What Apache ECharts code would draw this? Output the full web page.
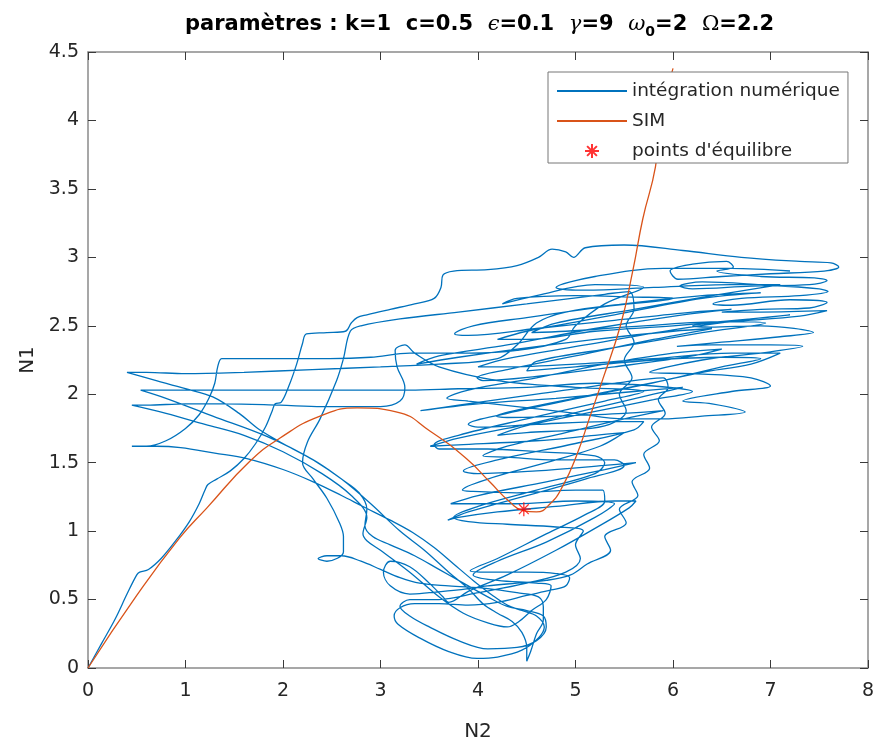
<!DOCTYPE html>
<html>
<head>
<meta charset="utf-8">
<script src="https://cdn.jsdelivr.net/npm/echarts/dist/echarts.min.js"></script>
<style>
  html, body { margin: 0; padding: 0; background: #fff; }
  #chart { width: 878px; height: 747px; }
</style>
</head>
<body>
<div id="chart"></div>
<script>
// trajectory (N2, N1), split in pieces
var climb = [
  [0,0],[0.14,0.18],[0.28,0.36],[0.4,0.54],[0.5,0.68],[0.53,0.7],[0.62,0.72],[0.75,0.8],[0.9,0.93],
  [1.04,1.07],[1.14,1.2],[1.2,1.3],[1.23,1.34],[1.32,1.38],[1.46,1.44],[1.6,1.53],[1.72,1.64],
  [1.82,1.76],[1.89,1.88],[1.92,1.93],[1.98,1.94],[2.06,2.06],[2.14,2.22],[2.2,2.37],[2.24,2.44],
  [2.45,2.45],[2.64,2.46],[2.7,2.52],[2.76,2.56],[2.86,2.58],[3.1,2.62],[3.35,2.66],[3.55,2.7],
  [3.62,2.78],[3.64,2.87],[3.75,2.9],[4.1,2.91],[4.4,2.94],[4.62,3.0],[4.76,3.06],[4.9,3.04],
  [4.98,3.0],[5.1,3.07],[5.5,3.09],[6.1,3.05],[6.7,3.0],[7.3,2.97],[7.62,2.96],[7.7,2.93],
  [7.55,2.9],[7.0,2.88],[6.5,2.86],[6.05,2.84]
];
var bandTop = [
  [5.97,2.9],[6.2,2.95],[6.55,2.97],[6.62,2.93],[6.45,2.9],[6.9,2.86],[7.45,2.85],[7.58,2.83],
  [7.4,2.8],[6.8,2.79],[6.2,2.77],[6.07,2.79],[6.3,2.82],[6.9,2.8],[7.5,2.77],[7.59,2.75],
  [7.3,2.72],[6.7,2.7],[6.41,2.66],[6.6,2.65],[7.2,2.69],[7.58,2.67],[7.4,2.63],[6.9,2.62],
  [6.5,2.6],[6.9,2.6],[7.58,2.61],[7.3,2.57],[6.6,2.53],[6.2,2.5],[6.38,2.49],[6.9,2.5],
  [7.44,2.45],[7.1,2.42],[6.5,2.38],[6.04,2.35],[6.4,2.36],[7.0,2.36],[7.33,2.35],[7.0,2.31],
  [6.3,2.25],[5.76,2.16],[6.2,2.15],[6.8,2.12],[7.0,2.06],[6.6,2.02],[6.1,1.95],[6.4,1.93],
  [6.74,1.87],[6.3,1.84],[5.9,1.82]
];
var bandMid1 = [
  [5.5,1.82],[5.0,1.86],[4.4,1.91],[3.9,1.95],[3.68,1.97],[3.9,2.03],[4.6,2.12],[5.3,2.22],
  [6.0,2.3],[6.5,2.33],[6.2,2.28],[5.4,2.2],[4.6,2.13],[4.05,2.1],[3.99,2.12],[4.3,2.18],
  [5.0,2.28],[5.8,2.4],[6.4,2.48],[6.0,2.46],[5.2,2.4],[4.4,2.33],[3.8,2.27],[3.37,2.22],
  [3.6,2.28],[4.3,2.36],[5.2,2.48],[6.1,2.58],[6.6,2.62],[6.2,2.6],[5.4,2.54],[4.6,2.48],
  [3.9,2.43],[3.76,2.44],[3.95,2.5],[4.5,2.56],[5.3,2.64],[6.0,2.7],[5.6,2.71],[5.0,2.72],
  [4.4,2.7],[4.25,2.66],[4.6,2.72],[5.2,2.8],[5.7,2.78],[5.3,2.66],[5.0,2.5],[4.9,2.4]
];
var excursion1 = [
  [4.4,2.32],[3.9,2.3],[3.3,2.3],[2.9,2.27],[2.48,2.26],[1.9,2.26],[1.45,2.26],[1.37,2.26],
  [1.33,2.2],[1.3,2.08],[1.24,1.97],[1.14,1.85],[1.0,1.75],[0.8,1.66],[0.6,1.62],[0.45,1.62],
  [0.7,1.62],[0.95,1.61],[1.3,1.57],[1.63,1.53],[2.0,1.45],[2.31,1.36],[2.6,1.26],[2.82,1.18],
  [3.1,1.08],[3.33,0.99],[3.55,0.88],[3.75,0.76],[3.95,0.64],[4.15,0.53],[4.3,0.46],[4.45,0.42]
];
var bottom1 = [
  [4.6,0.38],[4.68,0.3],[4.62,0.22],[4.45,0.13],[4.2,0.08],[3.99,0.07],[3.7,0.12],[3.4,0.22],
  [3.18,0.32],[3.14,0.38],[3.2,0.44],[3.35,0.47],[3.6,0.47],[3.9,0.46],[4.2,0.48],[4.5,0.53],
  [4.75,0.57],[4.9,0.6],[4.94,0.66],[4.8,0.69],[4.5,0.7],[4.1,0.7],[3.92,0.71]
];
var lowerBand1 = [
  [4.2,0.8],[4.7,0.98],[5.1,1.12],[5.3,1.22],[5.28,1.3],[5.0,1.3],[4.4,1.28],[3.95,1.29],
  [3.84,1.3],[4.1,1.38],[4.7,1.5],[5.25,1.62],[5.5,1.72],[5.2,1.7],[4.6,1.66],[3.8,1.63],
  [3.51,1.62],[3.8,1.68],[4.5,1.78],[5.2,1.9],[5.8,2.0],[6.1,2.05],[5.6,2.02],[4.8,1.97],
  [4.0,1.93],[3.41,1.88],[3.8,1.92],[4.6,2.0],[5.4,2.08],[5.9,2.12]
];
var rightEdge1 = [
  [5.95,2.05],[5.85,1.96],[5.92,1.86],[5.78,1.76],[5.86,1.66],[5.7,1.56],[5.76,1.46],[5.58,1.36],
  [5.64,1.26],[5.45,1.16],[5.52,1.06],[5.3,0.96],[5.36,0.86],[5.12,0.76],[4.95,0.68],[4.7,0.64],
  [4.4,0.62],[4.1,0.6],[3.8,0.57],[3.5,0.55],[3.3,0.54],[3.1,0.6],[3.03,0.7],[3.1,0.78],
  [3.3,0.74],[3.5,0.62],[3.64,0.52],[3.7,0.48],[3.9,0.56],[4.3,0.68],[4.8,0.86],[5.2,1.02],
  [5.55,1.17],[5.62,1.22],[5.4,1.22],[4.8,1.18],[4.2,1.14],[3.8,1.1],[3.69,1.08],[3.9,1.14],
  [4.5,1.26],[5.1,1.38],[5.5,1.48],[5.4,1.52],[4.8,1.52],[4.3,1.54],[4.05,1.55],[4.3,1.62],
  [4.9,1.72],[5.5,1.82],[5.9,1.88],[5.5,1.86],[4.8,1.84],[4.3,1.83],[4.19,1.84],[4.5,1.9],
  [5.2,2.0],[5.9,2.1],[6.3,2.16]
];
var bandMid2 = [
  [6.8,2.22],[7.1,2.3],[6.6,2.3],[5.8,2.26],[5.0,2.22],[4.3,2.2],[4.0,2.2],[4.3,2.26],
  [5.1,2.36],[6.0,2.47],[6.8,2.55],[7.2,2.58],[6.8,2.55],[6.0,2.5],[5.2,2.46],[4.5,2.4],
  [4.2,2.4],[4.5,2.46],[5.4,2.58],[6.3,2.7],[6.9,2.74],[6.3,2.72],[5.5,2.66],[4.9,2.6],
  [4.6,2.52],[4.4,2.36],[4.2,2.26]
];
var excursion2 = [
  [3.6,2.22],[3.0,2.2],[2.3,2.18],[1.6,2.16],[1.0,2.15],[0.6,2.16],[0.4,2.16],[0.7,2.1],
  [1.0,2.04],[1.28,1.98],[1.55,1.86],[1.76,1.74],[2.05,1.62],[2.31,1.52],[2.6,1.38],[2.9,1.2],
  [3.2,1.0],[3.45,0.86],[3.7,0.7],[3.9,0.58],[4.05,0.47],[4.2,0.4]
];
var bottom2 = [
  [4.35,0.34],[4.45,0.26],[4.5,0.15],[4.5,0.05],[4.54,0.12],[4.6,0.25],[4.67,0.35],[4.67,0.45],
  [4.62,0.52],[4.4,0.55],[4.1,0.58],[3.7,0.6],[3.4,0.62],[3.2,0.66],[3.0,0.72],[2.8,0.78],
  [2.6,0.82],[2.45,0.82],[2.36,0.8],[2.45,0.78],[2.62,0.85],[2.62,0.96],[2.58,1.06],[2.45,1.24],
  [2.31,1.38],[2.2,1.5],[2.25,1.65],[2.38,1.82],[2.55,2.1],[2.62,2.26],[2.69,2.46],[2.8,2.5],
  [3.2,2.55],[3.8,2.6]
];
var bandMid3 = [
  [4.5,2.66],[5.3,2.73],[5.55,2.75],[5.6,2.62],[5.52,2.5],[5.6,2.38],[5.5,2.25],[5.58,2.12],
  [5.45,2.0],[5.52,1.88],[5.35,1.78],[5.0,1.74],[4.5,1.72],[4.2,1.7],[4.5,1.77],[5.1,1.86],
  [5.8,1.96],[6.2,2.02],[5.8,2.06],[5.2,2.08]
];
var excursion3 = [
  [4.5,2.05],[3.8,2.04],[3.3,2.03],[2.6,2.03],[1.8,2.03],[1.1,2.03],[0.7,2.03],[0.54,2.03],
  [0.8,1.97],[1.28,1.84],[1.84,1.69],[2.31,1.52],[2.6,1.38],[2.78,1.28],[2.86,1.16],[2.84,1.04],
  [2.92,0.96],[3.1,0.9],[3.35,0.82],[3.6,0.72],[3.85,0.62],[4.1,0.52],[4.3,0.45]
];
var bottom3 = [
  [4.5,0.42],[4.67,0.38],[4.7,0.3],[4.6,0.2],[4.4,0.15],[4.1,0.14],[3.8,0.2],[3.5,0.3],
  [3.3,0.38],[3.2,0.45],[3.3,0.5],[3.6,0.5]
];
var lowerBand2 = [
  [4.0,0.55],[4.5,0.62],[4.9,0.7],[5.05,0.8],[5.0,0.9],[5.08,1.0],[4.8,1.03],[4.3,1.05],
  [3.9,1.07],[3.75,1.1],[4.0,1.18],[4.6,1.3],[5.2,1.42],[5.3,1.5],[5.2,1.55],[4.6,1.58],
  [4.1,1.6],[3.6,1.6],[3.55,1.63],[3.8,1.7],[4.5,1.82],[5.3,1.95],[5.7,2.02]
];
var excursion4 = [
  [5.0,2.05],[4.2,2.1],[3.6,2.2],[3.35,2.3],[3.25,2.36],[3.15,2.32],[3.17,2.2],[3.25,2.05],
  [3.2,1.95],[3.0,1.91],[2.4,1.91],[1.97,1.92],[1.4,1.93],[1.0,1.93],[0.6,1.92],[0.45,1.92],
  [0.8,1.86],[1.2,1.78],[1.6,1.7],[2.0,1.58],[2.4,1.42],[2.7,1.26],[2.86,1.1],[2.82,0.98],
  [2.86,0.93],[3.0,0.86],[3.3,0.7],[3.6,0.52],[3.85,0.4],[4.1,0.33],[4.3,0.3],[4.42,0.34]
];
var ending = [
  [4.55,0.42],[4.7,0.5],[4.75,0.6],[4.6,0.62],[4.2,0.64],[3.95,0.68],[4.2,0.78],[4.7,0.92],
  [5.2,1.1],[5.4,1.2],[5.0,1.22],[4.4,1.2],[3.9,1.2],[3.72,1.2],[4.0,1.26],[4.7,1.36],
  [5.3,1.45],[5.62,1.5],[5.3,1.48],[4.6,1.44],[4.0,1.42],[3.85,1.44],[4.2,1.52],[5.0,1.64],
  [5.6,1.74],[5.7,1.8],[5.3,1.8],[4.6,1.78],[4.0,1.76],[3.9,1.78],[4.3,1.86],[5.1,1.98],
  [5.9,2.1],[6.5,2.2],[6.9,2.26],[6.5,2.27],[5.8,2.25],[5.0,2.2],[4.5,2.17],[4.6,2.24],
  [5.4,2.34],[6.3,2.45],[6.95,2.52],[6.5,2.53],[5.7,2.5],[4.9,2.46],[4.55,2.45],[4.8,2.52],
  [5.6,2.62],[6.4,2.72],[7.1,2.8],[6.6,2.8],[5.8,2.78],[5.1,2.76],[4.8,2.78],[5.2,2.86],
  [5.9,2.92],[6.6,2.92],[7.2,2.9]
];

// slow invariant manifold
var simN2 = [0, 0.5, 0.94, 1.22, 1.66, 1.97, 2.38, 2.76, 3.17, 3.51, 3.88, 4.12, 4.33, 4.46, 4.6,
  4.74, 4.87, 5.01, 5.15, 5.28, 5.46, 5.59, 5.69, 5.82, 5.87, 6.0];
var simN1 = [0, 0.53, 0.95, 1.17, 1.51, 1.68, 1.84, 1.90, 1.87, 1.73, 1.53, 1.36, 1.21, 1.15, 1.14,
  1.20, 1.33, 1.55, 1.84, 2.11, 2.5, 2.91, 3.28, 3.66, 4.0, 4.38];

var equilibrium = [[4.47, 1.16]];

var trajectory = [].concat(climb, bandTop, bandMid1, excursion1, bottom1, lowerBand1, rightEdge1,
  bandMid2, excursion2, bottom2, bandMid3, excursion3, bottom3, lowerBand2, excursion4, ending);
var sim = simN2.map(function (x, i) { return [x, simN1[i]]; });

var font = "'DejaVu Sans', 'Liberation Sans', Arial, sans-serif";
var serif = "'DejaVu Serif', 'Liberation Serif', serif";
var axisGray = '#8a8a8a';
var tickDark = '#3a3a3a';
var starPath = 'path://M10,0L10,20M0,10L20,10M3,3L17,17M17,3L3,17';
var noMarker = { color: 'rgba(0,0,0,0)', borderWidth: 0 };

var myChart = echarts.init(document.getElementById('chart'));

var option = {
  animation: false,
  backgroundColor: '#fff',
  title: {
    left: 180,
    top: 6,
    text: '{a|paramètres : k=1  c=0.5  }{g|ϵ}{a|=0.1  }{g|γ}{a|=9  }{g|ω}{s|0}{a|=2  }{o|Ω}{a|=2.2}',
    textStyle: {
      rich: {
        a: { fontFamily: font, fontWeight: 'bold', fontSize: 21, color: '#000', lineHeight: 28 },
        g: { fontFamily: serif, fontStyle: 'italic', fontWeight: 'normal', fontSize: 21, color: '#000', lineHeight: 28 },
        o: { fontFamily: serif, fontWeight: 'normal', fontSize: 21, color: '#000', lineHeight: 28 },
        s: { fontFamily: font, fontWeight: 'bold', fontSize: 14, color: '#000', lineHeight: 28, padding: [14, 0, 0, 0] }
      }
    }
  },
  legend: {
    left: 548,
    top: 72,
    orient: 'vertical',
    backgroundColor: '#fff',
    borderColor: '#777',
    borderWidth: 1,
    borderRadius: 0,
    padding: [8, 8, 1, 8],
    itemWidth: 70,
    itemHeight: 14,
    itemGap: 8,
    textStyle: { fontFamily: font, fontSize: 18.5, color: '#262626', lineHeight: 22 },
    data: [
      { name: 'intégration numérique', itemStyle: noMarker },
      { name: 'SIM', itemStyle: noMarker },
      { name: "points d'équilibre" }
    ]
  },
  grid: { left: 88, right: 10, top: 52, bottom: 77, containLabel: false },
  xAxis: [{
    type: 'value', min: 0, max: 8, interval: 1,
    name: 'N2', nameLocation: 'middle', nameGap: 54,
    nameTextStyle: { fontFamily: font, fontSize: 20, color: '#262626' },
    axisLine: { show: true, onZero: false, lineStyle: { color: axisGray, width: 1.5 } },
    axisTick: { show: true, inside: true, length: 8, lineStyle: { color: tickDark } },
    axisLabel: { fontFamily: font, fontSize: 19, color: '#262626', margin: 14 },
    splitLine: { show: false }
  }, {
    type: 'value', min: 0, max: 8, interval: 1, position: 'top',
    axisLine: { show: true, onZero: false, lineStyle: { color: axisGray, width: 1.5 } },
    axisTick: { show: true, inside: true, length: 8, lineStyle: { color: tickDark } },
    axisLabel: { show: false },
    splitLine: { show: false }
  }],
  yAxis: [{
    type: 'value', min: 0, max: 4.5, interval: 0.5,
    name: 'N1', nameLocation: 'middle', nameGap: 47,
    nameTextStyle: { fontFamily: font, fontSize: 20, color: '#262626' },
    axisLine: { show: true, onZero: false, lineStyle: { color: axisGray, width: 1.5 } },
    axisTick: { show: true, inside: true, length: 8, lineStyle: { color: tickDark } },
    axisLabel: { fontFamily: font, fontSize: 19, color: '#262626', margin: 9 },
    splitLine: { show: false }
  }, {
    type: 'value', min: 0, max: 4.5, interval: 0.5, position: 'right',
    axisLine: { show: true, onZero: false, lineStyle: { color: axisGray, width: 1.5 } },
    axisTick: { show: true, inside: true, length: 8, lineStyle: { color: tickDark } },
    axisLabel: { show: false },
    splitLine: { show: false }
  }],
  series: [
    {
      name: 'intégration numérique',
      type: 'line',
      data: trajectory,
      showSymbol: false,
      symbol: 'none',
      smooth: 0.35,
      lineStyle: { color: '#0072BD', width: 1.3 },
      itemStyle: { color: '#0072BD' },
      z: 2
    },
    {
      name: 'SIM',
      type: 'line',
      data: sim,
      showSymbol: false,
      symbol: 'none',
      smooth: true,
      lineStyle: { color: '#D95319', width: 1.3 },
      itemStyle: { color: '#D95319' },
      z: 3
    },
    {
      name: "points d'équilibre",
      type: 'scatter',
      data: equilibrium,
      symbol: starPath,
      symbolSize: 14,
      symbolKeepAspect: true,
      itemStyle: { color: 'rgba(0,0,0,0)', borderColor: '#FF0000', borderWidth: 1.3 },
      z: 4
    }
  ]
};

myChart.setOption(option);
window.addEventListener('resize', function () { myChart.resize(); });
</script>
</body>
</html>
